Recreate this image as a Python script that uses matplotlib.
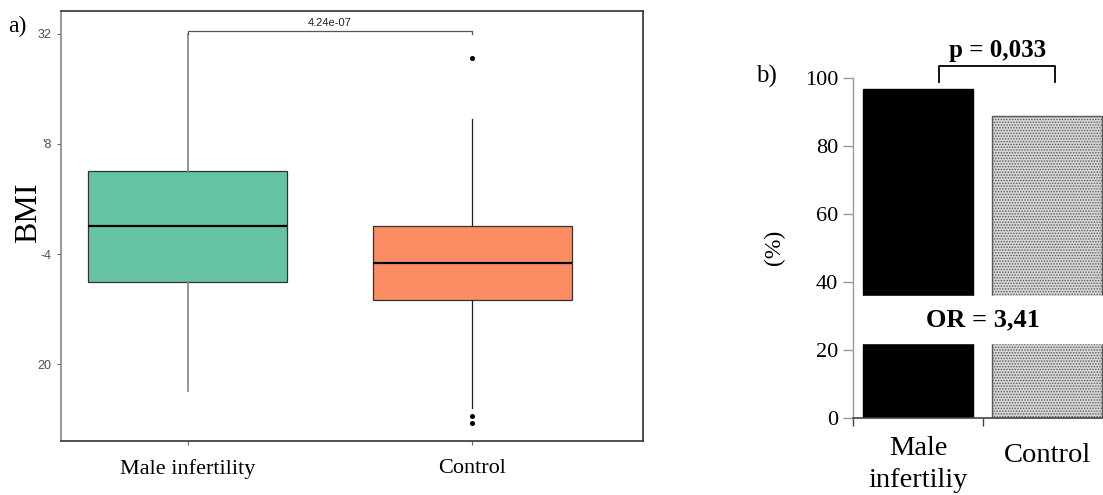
import matplotlib
matplotlib.use('Agg')
import matplotlib.pyplot as plt
import matplotlib.transforms as mtransforms

# ---- data ----
groups = ['Male infertility', 'Control']
box_q1 = [22.99, 22.34]
box_med = [25.01, 23.66]
box_q3 = [27.00, 25.03]
whisk_lo = [19.03, 18.40]
whisk_hi = [32.00, 28.90]
fliers = [[], [31.11, 18.11, 17.87]]
bmi_ticks = [20, 24, 28, 32]
bmi_ticklabels = ['20', '-4', "'8", '32']
p_box = '4.24e-07'

bar_groups = ['Male\ninfertiliy', 'Control']
bar_values = [96.6, 88.7]
pct_ticks = [0, 20, 40, 60, 80, 100]
p_bar = 'p = 0,033'
odds_ratio = 'OR = 3,41'

SERIF = 'Liberation Serif'
SANS = 'Liberation Sans'
W, H = 1103, 495

fig = plt.figure(figsize=(W / 100, H / 100), dpi=100)
fig.patch.set_facecolor('white')


def px_axes(left, top, right, bottom):
    '''add axes from pixel edges (origin top-left)'''
    return fig.add_axes([left / W, (H - bottom) / H,
                         (right - left) / W, (bottom - top) / H])


# ---------------- panel a: box plot ----------------
ax = px_axes(60.7, 10.7, 642.7, 441)
stats = []
for i in range(len(groups)):
    stats.append(dict(q1=box_q1[i], med=box_med[i], q3=box_q3[i],
                      whislo=whisk_lo[i], whishi=whisk_hi[i],
                      fliers=fliers[i], label=groups[i]))
art = ax.bxp(stats, positions=[1, 2], widths=0.70, patch_artist=True,
             showfliers=True,
             boxprops=dict(edgecolor='#333333', linewidth=0.9),
             medianprops=dict(color='black', linewidth=1.6),
             whiskerprops=dict(linewidth=0.9),
             capprops=dict(linewidth=0),
             flierprops=dict(marker='o', markersize=2.6, markerfacecolor='black',
                             markeredgecolor='black'))
for patch, col in zip(art['boxes'], ['#66C2A5', '#FC8D62']):
    patch.set_facecolor(col)
whisk_cols = ['#8c8c8c', '#8c8c8c', '#222222', '#222222']
for line, col in zip(art['whiskers'], whisk_cols):
    line.set_color(col)
art['whiskers'][0].set_linewidth(1.3)
art['whiskers'][1].set_linewidth(1.3)

ax.set_xlim(0.554, 2.599)
ax.set_ylim(17.21, 32.84)
ax.set_yticks(bmi_ticks)
ax.set_yticklabels(bmi_ticklabels, family=SANS, fontsize=9, color='#4d4d4d')
ax.set_xticks([1, 2])
ax.set_xticklabels(groups, family=SERIF, fontsize=16)
ax.tick_params(axis='both', length=3, color='#666666', width=0.8)
ax.tick_params(axis='x', pad=10)
ax.set_ylabel('BMI', family=SERIF, fontsize=23, va='center')
ax.yaxis.set_label_coords(-0.056, 0.53)
for side in ['top', 'right', 'bottom']:
    ax.spines[side].set_color('#333333')
    ax.spines[side].set_linewidth(1.2)
ax.spines['left'].set_color('#888888')
ax.spines['left'].set_linewidth(1.2)

ax.plot([1, 1, 2, 2], [32.0, 32.11, 32.11, 32.0], color='#555555',
        linewidth=0.9, clip_on=False)
ax.text(1.5, 32.40, p_box, family=SANS, fontsize=8, ha='center', va='center',
        color='#222222')
fig.text(8 / W, 1 - 26 / H, 'a)', family=SERIF, fontsize=17, va='center')

# ---------------- panel b: bar chart ----------------
bx = px_axes(853.3, 77.7, 1111.7, 417.7)
xs = list(range(len(bar_groups)))
plt.rcParams['hatch.linewidth'] = 0.7
plt.rcParams['hatch.color'] = '#6a6a6a'
bx.bar(xs[0], bar_values[0], width=0.846, color='black', edgecolor='black',
       zorder=2)
bx.bar(xs[1], bar_values[1], width=0.846, facecolor='#d6d6d6',
       edgecolor='#5a5a5a', hatch='......', linewidth=1.0, zorder=2)
bx.set_xlim(-0.5, 1.5)
bx.set_ylim(0, 100)
bx.set_yticks(pct_ticks)
bx.set_yticklabels([str(t) for t in pct_ticks], family=SERIF, fontsize=16)
bx.set_xticks([-0.5, 0.5])
bx.set_xticklabels([])
bx.tick_params(axis='x', length=6, color='#444444', width=1.0)
bx.tick_params(axis='y', length=7, color='#999999', width=1.0, pad=4)
for side in ['top', 'right']:
    bx.spines[side].set_visible(False)
bx.spines['left'].set_color('#999999')
bx.spines['left'].set_linewidth(1.0)
bx.spines['bottom'].set_color('#444444')
bx.spines['bottom'].set_linewidth(1.2)
bx.set_ylabel('(%)', family=SERIF, fontsize=17, labelpad=14)

# category labels below the axis (pixel offsets from the reference)
blend = mtransforms.blended_transform_factory(bx.transData, fig.transFigure)
label_tops = [436, 443]
for x, lab, top in zip(xs, bar_groups, label_tops):
    bx.text(x, 1 - top / H, lab, transform=blend, family=SERIF, fontsize=20.5,
            ha='center', va='top', linespacing=1.35)

# white band carrying the odds ratio
bx.axhspan(21.9, 35.8, xmin=0.02, xmax=1.0, color='white', zorder=3)
bx.text(0.5, 28.7, odds_ratio, family=SERIF, fontsize=19, fontweight='bold',
        ha='center', va='center', zorder=4)

# significance bracket
bx.plot([0.164, 0.164, 1.064, 1.064], [98.6, 103.4, 103.4, 98.6],
        color='black', linewidth=1.3, clip_on=False)
bx.text(0.614, 108.0, p_bar, family=SERIF, fontsize=18, fontweight='bold',
        ha='center', va='center', clip_on=False)
fig.text(756 / W, 1 - 76 / H, 'b)', family=SERIF, fontsize=18, va='center')

fig.savefig('out.png', dpi=100)
